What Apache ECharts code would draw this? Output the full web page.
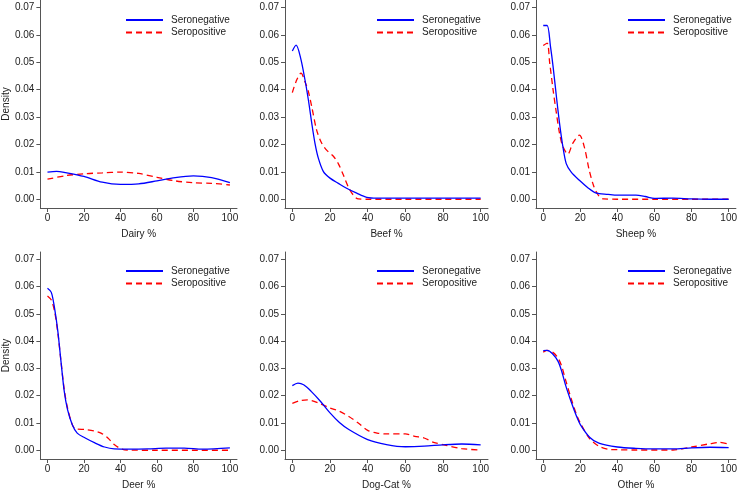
<!DOCTYPE html>
<html>
<head>
<meta charset="utf-8">
<script src="https://cdn.jsdelivr.net/npm/echarts@6/dist/echarts.min.js"></script>
<style>
html,body{margin:0;padding:0;background:#fff;}
#chart{width:740px;height:491px;}
</style>
</head>
<body>
<div id="chart"></div>
<script>
// ---- data ----
const panelTitles = ['Dairy %', 'Beef %', 'Sheep %', 'Deer %', 'Dog-Cat %', 'Other %'];
const seriesNames = ['Seronegative', 'Seropositive'];
const xTicks = [0, 20, 40, 60, 80, 100];
const yTicks = [0, 0.01, 0.02, 0.03, 0.04, 0.05, 0.06, 0.07];

const dairyNeg = [[0,0.0099],[5,0.0102],[10,0.0097],[20,0.0083],[30,0.0062],[40,0.0054],[50,0.0056],[60,0.0067],[70,0.0079],[80,0.0085],[90,0.0079],[100,0.0061]];
const dairyPos = [[0,0.0073],[10,0.0086],[20,0.0093],[30,0.0096],[40,0.0099],[50,0.0094],[60,0.0080],[70,0.0067],[80,0.0060],[90,0.0058],[100,0.0052]];

const beefNeg = [[0,0.0541],[2,0.0562],[4.4,0.0515],[6.7,0.0436],[8.5,0.0363],[10.3,0.0278],[12,0.0205],[13.8,0.0150],[16.5,0.0101],[20,0.0077],[24.4,0.0058],[28.8,0.0040],[34.2,0.0022],[39.5,0.0007],[45,0.0004],[60,0.0004],[80,0.0004],[100,0.0004]];
const beefPos = [[0,0.0389],[2,0.0430],[4.6,0.0460],[6.7,0.0429],[8.5,0.0393],[10.3,0.0338],[12.9,0.0252],[15.6,0.0204],[18.2,0.0179],[21.8,0.0157],[24.4,0.0130],[27.1,0.0088],[29.7,0.0045],[32.4,0.0015],[35,0.0001],[40,0],[60,0],[80,0],[100,0]];

const sheepNeg = [[0,0.0634],[2.1,0.0634],[3.9,0.0558],[5.3,0.0485],[7.1,0.0375],[8.8,0.0277],[10.6,0.0192],[12.4,0.0130],[15,0.0100],[19.5,0.0069],[23.9,0.0043],[28.3,0.0023],[35,0.0018],[40,0.0015],[50,0.0015],[55,0.0010],[60,0.0003],[70,0.0004],[80,0.0001],[90,0],[100,0]];
const sheepPos = [[0,0.0561],[2.1,0.0570],[3.5,0.0497],[5.3,0.0400],[7.1,0.0314],[8.8,0.0240],[10.6,0.0192],[13.3,0.0165],[15.9,0.0204],[19.5,0.0234],[22.1,0.0192],[24.8,0.0106],[27.4,0.0045],[30.1,0.0011],[32.7,0.0001],[40,0],[60,0],[80,0],[100,0]];

const deerNeg = [[0,0.0594],[2.1,0.0579],[3.9,0.0520],[5.7,0.0435],[7.4,0.0326],[9.2,0.0216],[11,0.0149],[13.6,0.0094],[16.3,0.0063],[20.7,0.0045],[26,0.0027],[31.3,0.0012],[36.6,0.0005],[45,0.0004],[55,0.0005],[65,0.0008],[75,0.0008],[85,0.0004],[100,0.0009]];
const deerPos = [[0,0.0566],[2.1,0.0551],[3.9,0.0509],[5.7,0.0430],[7.4,0.0326],[9.2,0.0222],[11,0.0155],[13.6,0.0094],[15.4,0.0079],[20.7,0.0076],[26,0.0070],[29.6,0.0062],[33.1,0.0045],[36.6,0.0021],[40.2,0.0006],[43.7,0.0001],[60,0],[80,0],[100,0]];

const dogNeg = [[0,0.0237],[3,0.0246],[6,0.0240],[10,0.0216],[15,0.0179],[20,0.0137],[25,0.0102],[30,0.0076],[40,0.0039],[50,0.0021],[60,0.0013],[70,0.0015],[80,0.0020],[90,0.0023],[100,0.0020]];
const dogPos = [[0,0.0172],[4,0.0182],[8,0.0185],[15,0.0170],[20,0.0155],[25,0.0143],[30,0.0124],[35,0.0100],[40,0.0073],[45,0.0063],[50,0.0060],[60,0.0060],[65,0.0051],[70,0.0045],[75,0.0029],[80,0.0021],[90,0.0006],[100,0.0001]];

const otherNeg = [[0,0.0365],[2,0.0366],[5,0.0354],[8,0.0326],[10,0.0289],[12,0.0240],[15,0.0179],[18,0.0124],[20,0.0094],[25,0.0048],[30,0.0026],[40,0.0012],[50,0.0007],[60,0.0005],[70,0.0005],[80,0.0009],[90,0.0011],[100,0.0010]];
const otherPos = [[0,0.0360],[2,0.0366],[5,0.0360],[8,0.0338],[10,0.0307],[12,0.0259],[15,0.0191],[18,0.0130],[20,0.0100],[25,0.0043],[30,0.0015],[35,0.0004],[40,0.0002],[50,0.0001],[70,0.0001],[80,0.0012],[90,0.0024],[95,0.0029],[100,0.0023]];

const negData = [dairyNeg, beefNeg, sheepNeg, deerNeg, dogNeg, otherNeg];
const posData = [dairyPos, beefPos, sheepPos, deerPos, dogPos, otherPos];

// ---- layout ----
const colLeft = [34, 285, 536];
const rowTop = [0, 252];
const rowHeight = [208, 207];
const gridWidth = 203;
const legendLeft = [125, 376, 627];
const legendTop = [15, 266];

const FONT = 'Liberation Sans, Arial, sans-serif';
const TEXT = '#222';
const AXIS = '#555';

const grids = [], xAxes = [], yAxes = [], series = [], legends = [];
for (let i = 0; i < 6; i++) {
  const r = Math.floor(i / 3), c = i % 3;
  grids.push({left: colLeft[c], top: rowTop[r], width: gridWidth, height: rowHeight[r], containLabel: false});
  xAxes.push({
    type: 'value', gridIndex: i, min: -3.9, max: 103.9,
    name: panelTitles[i], nameLocation: 'middle', nameGap: 21,
    nameTextStyle: {fontFamily: FONT, fontSize: 10, color: TEXT},
    axisLine: {show: true, onZero: false, lineStyle: {color: AXIS, width: 1}},
    axisTick: {show: true, length: 4, customValues: xTicks, lineStyle: {color: AXIS}},
    axisLabel: {customValues: xTicks, margin: 5, fontFamily: FONT, fontSize: 10, color: TEXT},
    splitLine: {show: false}
  });
  yAxes.push({
    type: 'value', gridIndex: i, min: -0.0032, max: 0.0727,
    name: c === 0 ? 'Density' : '', nameLocation: 'middle', nameGap: 27,
    nameTextStyle: {fontFamily: FONT, fontSize: 10, color: TEXT},
    axisLine: {show: true, onZero: false, lineStyle: {color: AXIS, width: 1}},
    axisTick: {show: true, length: 4, customValues: yTicks, lineStyle: {color: AXIS}},
    axisLabel: {customValues: yTicks, margin: 6, fontFamily: FONT, fontSize: 10, color: TEXT,
      formatter: v => v.toFixed(2)},
    splitLine: {show: false}
  });
  series.push({
    name: seriesNames[0], type: 'line', xAxisIndex: i, yAxisIndex: i,
    data: negData[i], symbol: 'none', smooth: 0.3, z: 3,
    lineStyle: {color: '#0000ff', width: 1.3}, itemStyle: {color: '#0000ff'}
  });
  series.push({
    name: seriesNames[1], type: 'line', xAxisIndex: i, yAxisIndex: i,
    data: posData[i], symbol: 'none', smooth: 0.3, z: 2,
    lineStyle: {color: '#ff0000', width: 1.3, type: [6, 4]}, itemStyle: {color: '#ff0000'}
  });
  legends.push({
    data: seriesNames, orient: 'vertical', left: legendLeft[c], top: legendTop[r],
    padding: 0, itemWidth: 37, itemHeight: 10, itemGap: 2.5, selectedMode: false,
    itemStyle: {opacity: 0},
    textStyle: {fontFamily: FONT, fontSize: 10, color: TEXT, padding: [0, 0, 0, 3]}
  });
}

const chart = echarts.init(document.getElementById('chart'), null, {renderer: 'canvas'});
chart.setOption({
  animation: false,
  backgroundColor: '#fff',
  grid: grids, xAxis: xAxes, yAxis: yAxes, series: series, legend: legends
});
</script>
</body>
</html>
